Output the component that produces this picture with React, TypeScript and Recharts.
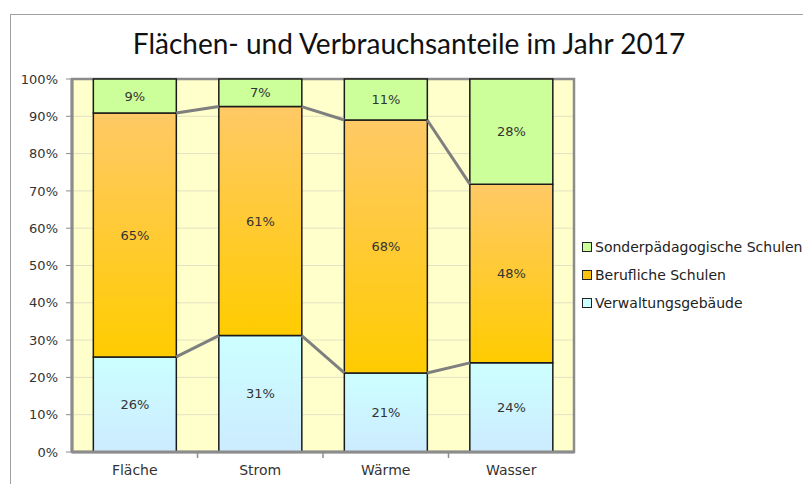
import React from 'react';
import { BarChart, Bar, XAxis, YAxis, CartesianGrid, LabelList, ReferenceLine, ReferenceArea } from 'recharts';

const categories = ['Fläche', 'Strom', 'Wärme', 'Wasser'];
const verwaltung = [25.5, 31.2, 21.2, 23.9];
const beruflich = [65.4, 61.4, 67.8, 47.9];
const sonder = [9.1, 7.4, 11.0, 28.2];
const yTicks = [0, 10, 20, 30, 40, 50, 60, 70, 80, 90, 100];
const title = 'Flächen- und Verbrauchsanteile im Jahr 2017';
const seriesNames = ['Sonderpädagogische Schulen', 'Berufliche Schulen', 'Verwaltungsgebäude'];

const data = categories.map((c, i) => ({
  name: c,
  pos: i + 0.5,
  verwaltung: verwaltung[i],
  beruflich: beruflich[i],
  sonder: sonder[i],
}));

const GAP = 0.17;
const FONT = '"DejaVu Sans", sans-serif';
const TITLE_FONT = 'Lato, "Open Sans", sans-serif';
const GRAY = '#8c8c8c';

const cumLow = verwaltung;
const cumHigh = verwaltung.map((v, i) => v + beruflich[i]);

const fmt = (v: any) => `${Math.round(Number(v))}%`;

const legendColors = ['#CCFF99', '#FFC20E', '#CCFFFF'];

export default function App() {
  const segLines: React.ReactNode[] = [];
  for (let i = 0; i < categories.length - 1; i++) {
    [cumLow, cumHigh].forEach((cum, k) => {
      segLines.push(
        <ReferenceLine
          key={`s${i}-${k}`}
          xAxisId="n"
          segment={[{ x: i + 1 - GAP, y: cum[i] }, { x: i + 1 + GAP, y: cum[i + 1] }]}
          stroke="#7f7f7f"
          strokeWidth={3}
          ifOverflow="visible"
        />
      );
    });
  }
  const tickMarks = [1, 2, 3].map((k) => (
    <ReferenceLine
      key={`t${k}`}
      xAxisId="n"
      segment={[{ x: k, y: 0 }, { x: k, y: -1.6 }]}
      stroke={GRAY}
      strokeWidth={1.5}
      ifOverflow="visible"
    />
  ));

  const labelStyle = { fontSize: 13, fill: '#333', fontFamily: FONT };

  return (
    <div style={{ position: 'relative', width: 803, height: 476, overflow: 'hidden', fontFamily: FONT }}>
      <div style={{ position: 'absolute', left: 2, top: 6, width: 900, height: 600, border: '1px solid #a0a0a0', boxSizing: 'border-box' }} />
      <div style={{ position: 'absolute', left: 0, width: 802, top: 18, textAlign: 'center', fontSize: 28, color: '#111', fontFamily: TITLE_FONT }}>
        {title}
      </div>
      <div style={{ position: 'absolute', left: 0, top: 0 }}>
        <BarChart
          width={803}
          height={476}
          data={data}
          margin={{ top: 71, right: 237, bottom: 7, left: 10 }}
          barCategoryGap={`${GAP * 100}%`}
        >
          <defs>
            <linearGradient id="gOrange" x1="0" y1="0" x2="0" y2="1">
              <stop offset="0%" stopColor="#FFC966" />
              <stop offset="100%" stopColor="#FFCC00" />
            </linearGradient>
            <linearGradient id="gBlue" x1="0" y1="0" x2="0" y2="1">
              <stop offset="0%" stopColor="#CCFFFF" />
              <stop offset="100%" stopColor="#CCEBFF" />
            </linearGradient>
          </defs>
          <CartesianGrid vertical={false} stroke="#E2E2C4" fill="#FFFFCC" fillOpacity={1} />
          <XAxis
            dataKey="name"
            tickLine={false}
            axisLine={{ stroke: GRAY, strokeWidth: 3 }}
            tick={{ ...labelStyle, fontSize: 14 }}
            tickMargin={7}
            height={25}
          />
          <XAxis xAxisId="n" dataKey="pos" type="number" domain={[0, 4]} hide allowDataOverflow />
          <YAxis
            domain={[0, 100]}
            ticks={yTicks}
            tickFormatter={(v) => `${v}%`}
            interval={0}
            width={54}
            tick={labelStyle}
            axisLine={{ stroke: GRAY, strokeWidth: 3 }}
            tickLine={{ stroke: GRAY }}
            tickSize={6}
            tickMargin={8}
          />
          <Bar dataKey="verwaltung" stackId="a" fill="url(#gBlue)" stroke="#1a1a1a" strokeWidth={1.5} isAnimationActive={false}>
            <LabelList dataKey="verwaltung" position="center" formatter={fmt} style={labelStyle} />
          </Bar>
          <Bar dataKey="beruflich" stackId="a" fill="url(#gOrange)" stroke="#1a1a1a" strokeWidth={1.5} isAnimationActive={false}>
            <LabelList dataKey="beruflich" position="center" formatter={fmt} style={labelStyle} />
          </Bar>
          <Bar dataKey="sonder" stackId="a" fill="#CCFF99" stroke="#1a1a1a" strokeWidth={1.5} isAnimationActive={false}>
            <LabelList dataKey="sonder" position="center" formatter={fmt} style={labelStyle} />
          </Bar>
          {segLines}
          {tickMarks}
          <ReferenceArea xAxisId="n" x1={0} x2={4} y1={0} y2={100} fill="none" stroke={GRAY} strokeWidth={2.5} ifOverflow="visible" />
        </BarChart>
      </div>
      <div style={{ position: 'absolute', left: 574, top: 225, fontSize: 14, color: '#222' }}>
        {seriesNames.map((n, i) => (
          <div key={n} style={{ display: 'flex', alignItems: 'center', height: 28 }}>
            <span style={{ display: 'inline-block', width: 8, height: 8, border: '1px solid #222', background: legendColors[i], marginRight: 3 }} />
            <span>{n}</span>
          </div>
        ))}
      </div>
    </div>
  );
}
